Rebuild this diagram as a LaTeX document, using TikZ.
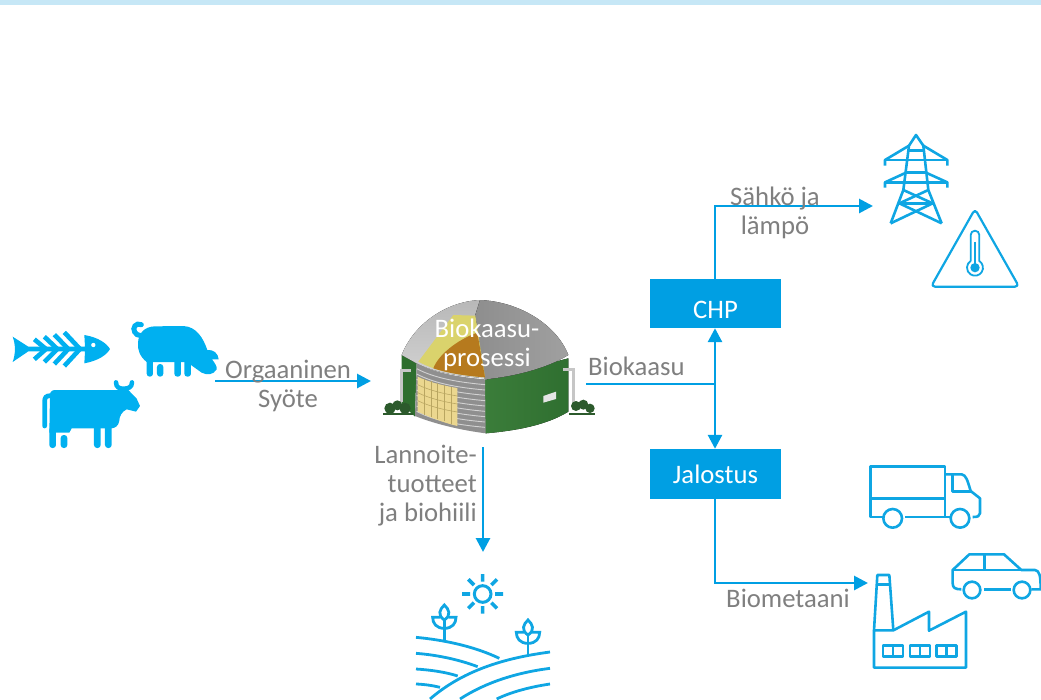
\documentclass[tikz,border=0pt]{standalone}
\usepackage{fontspec}
\setmainfont{Carlito}
\usetikzlibrary{arrows.meta}
\definecolor{flow}{HTML}{009FE3}
\definecolor{animal}{HTML}{00B0F0}
\definecolor{iconline}{HTML}{0FA6E3}
\definecolor{band}{HTML}{C6E7F6}
\definecolor{txt}{HTML}{7F7F7F}
\definecolor{wallR}{HTML}{3B7D3A}
\definecolor{wallRd}{HTML}{2F6F30}
\definecolor{wallL}{HTML}{2E6E2E}
\definecolor{domeL}{HTML}{B8B8B8}
\definecolor{domeLt}{HTML}{D2D2D2}
\definecolor{domeR}{HTML}{A0A0A0}
\definecolor{domeRd}{HTML}{8E8E8E}
\definecolor{hay}{HTML}{DAD36C}
\definecolor{brownfill}{HTML}{B67A1E}
\definecolor{panel}{HTML}{EBD78F}
\definecolor{panelline}{HTML}{B9A661}
\definecolor{cyl}{HTML}{8F8F8F}
\definecolor{bush}{HTML}{2C5A2C}
\tikzset{
 flowline/.style={draw=flow,line width=2.8pt,-{Triangle[length=14pt,width=14pt]}},
 plainflow/.style={draw=flow,line width=2.8pt},
 label/.style={text=txt,font=\fontsize{26.7}{29}\selectfont,align=center,inner sep=0pt},
 whitelabel/.style={text=white,font=\fontsize{26.7}{29}\selectfont,align=center,inner sep=0pt},
 procbox/.style={fill=flow,draw=none,minimum width=131pt,inner sep=0pt,text=white,font=\fontsize{26.7}{29}\selectfont},
 zoomed/.style={x=0.33333pt,y=-0.33333pt},
 icon/.style={draw=iconline,line width=2.6pt,line join=round,fill=none},
 iconthin/.style={draw=iconline,line width=2.2pt,line join=round,fill=none},
 farmline/.style={draw=iconline,line width=2.8pt},
 bone/.style={draw=animal,line width=4.6pt},
}
\begin{document}
\begin{tikzpicture}[x=1pt,y=-1pt]
\useasboundingbox (0,0) rectangle (1041,699);
\fill[band] (0,0) rectangle (1041,5);

% fish
\begin{scope}[shift={(0,300)},zoomed]
\fill[animal] (38,110) -- (85,140) -- (255,140) -- (253,105) .. controls (295,112) and (320,130) .. (330,147) .. controls (320,165) and (295,182) .. (253,190) -- (255,154) -- (85,154) -- (38,186) .. controls (47,160) and (47,135) .. (38,110) -- cycle;
\fill[white] (280,135) circle[radius=6.5];
\draw[bone] (103,118) -- (138,147) -- (103,178);
\draw[bone] (133,110) -- (172,147) -- (133,186);
\draw[bone] (163,104) -- (205,147) -- (163,192);
\draw[bone] (193,97) -- (240,147) -- (193,198);
% pig
\draw[animal,line width=5pt,line cap=round] (424,74) .. controls (408,66) and (396,84) .. (404,96) .. controls (408,104) and (414,106) .. (420,106);
\fill[animal] (414,128) .. controls (416,100) and (432,80) .. (465,79) -- (550,78) .. controls (590,80) and (610,115) .. (622,150) .. controls (640,148) and (655,160) .. (656,178) -- (636,178) .. controls (645,190) and (652,200) .. (650,208) .. controls (640,225) and (622,226) .. (605,218) -- (573,195) -- (573,186) -- (440,186) .. controls (420,170) and (412,150) .. (414,128) -- cycle;
\fill[animal,rounded corners=3pt] (440,170) rectangle (459,230);
\fill[animal,rounded corners=3pt] (471,192) rectangle (490,230);
\fill[animal,rounded corners=3pt] (523,170) rectangle (543,230);
\fill[animal,rounded corners=3pt] (553,170) rectangle (573,230);
% cow
\draw[animal,line width=4.5pt,line cap=round] (348,247) .. controls (348,262) and (358,266) .. (370,266) .. controls (385,266) and (396,262) .. (396,247);
\fill[animal] (150,282) .. controls (152,272) and (158,270) .. (170,270) -- (385,270) -- (410,296) -- (420,318) -- (408,335) -- (380,328) .. controls (365,335) and (358,350) .. (358,362) .. controls (356,378) and (345,384) .. (335,385) -- (215,385) -- (208,398) -- (148,398) -- cycle;
\draw[animal,line width=4.7pt,line cap=round] (150,287) .. controls (138,288) and (134,292) .. (134,305) -- (134,378);
\fill[animal,rounded corners=3pt] (148,380) rectangle (168,444);
\fill[animal,rounded corners=3pt] (182,405) rectangle (202,444);
\fill[animal,rounded corners=3pt] (282,375) rectangle (302,444);
\fill[animal,rounded corners=3pt] (315,375) rectangle (335,444);
\end{scope}

% digester
\begin{scope}[shift={(370,300)},zoomed]
\fill[wallL] (95,165) -- (140,190) -- (135,350) -- (95,312) -- cycle;
\fill[left color=wallR,right color=wallRd] (345,240) -- (595,175) -- (595,335) .. controls (530,375) and (440,392) .. (347,400) -- cycle;
\fill[cyl] (140,190) .. controls (200,222) and (280,232) .. (345,238) -- (347,400) .. controls (270,390) and (195,372) .. (135,348) -- cycle;
\foreach \d in {16,32,...,144}{
 \draw[gray!35,line width=0.9pt] (140,{190+\d}) .. controls (200,{222+\d}) and (280,{232+\d}) .. (345,{238+\d});
}
\fill[panel] (143,230) .. controls (180,248) and (225,258) .. (262,264) -- (262,378) .. controls (220,368) and (180,352) .. (143,335) -- cycle;
\foreach \x in {163,183,203,223,243}{ \draw[panelline,line width=0.6pt] (\x,{232+(\x-143)*.28}) -- (\x,{337+(\x-143)*.34}); }
\foreach \d in {24,48,72}{ \draw[panelline,line width=0.6pt] (143,{230+\d}) .. controls (180,{248+\d}) and (225,{258+\d}) .. (262,{264+\d}); }
% dome
\fill[bottom color=domeLt,top color=domeL] (95,165) .. controls (130,75) and (225,5) .. (330,0) -- (345,235) .. controls (270,228) and (200,220) .. (140,190) -- cycle;
\fill[left color=domeRd,right color=domeR] (330,0) .. controls (450,5) and (560,75) .. (595,165) .. controls (530,205) and (430,230) .. (345,238) -- (316,45) -- cycle;
\fill[hay] (145,185) -- (250,45) -- (316,47) -- (345,232) .. controls (270,226) and (200,215) .. (145,185) -- cycle;
\fill[brownfill] (190,205) .. controls (205,165) and (260,120) .. (322,98) -- (345,232) .. controls (290,228) and (235,220) .. (190,205) -- cycle;
% pipes
\draw[gray!45,line width=3pt] (122,212) -- (95,212) -- (95,305);
\draw[gray!45,line width=3pt] (580,207) -- (610,207) -- (610,305);
% bushes
\fill[bush] (40,340) rectangle (130,346);
\fill[bush] (60,325) circle[radius=17];
\fill[bush] (82,316) circle[radius=15];
\fill[bush] (105,325) circle[radius=17];
\fill[bush] (598,340) rectangle (675,346);
\fill[bush] (618,318) circle[radius=15];
\fill[bush] (640,314) circle[radius=15];
\fill[bush] (660,325) circle[radius=14];
\fill[gray!20] (520,288) -- (558,275) -- (558,297) -- (520,308) -- cycle;
\end{scope}

% nodes
\node[whitelabel] (process) at (487,345) {Biokaasu-\\prosessi};
\node[procbox,minimum height=49pt] (chp) at (715.5,303.5) {\rule{0pt}{30pt}CHP};
\node[procbox,minimum height=50pt] (jalostus) at (715.5,474) {Jalostus};
\coordinate (feedstart) at (215,381);
\coordinate (feedend) at (371,381);
\coordinate (gasstart) at (586,384);
\coordinate (branch) at (715,384);
\coordinate (fertstart) at (483,447);
\coordinate (fertend) at (483,552);
\coordinate (powerend) at (873,206);
\coordinate (fuelend) at (868,583);

% connectors
\draw[flowline] (feedstart) -- (feedend);
\draw[plainflow] (gasstart) -- (branch);
\draw[flowline] (branch) -- (chp.south -| branch);
\draw[flowline] (branch) -- (jalostus.north -| branch);
\draw[flowline] (chp.north -| branch) |- (powerend);
\draw[flowline] (jalostus.south -| branch) |- (fuelend);
\draw[flowline] (fertstart) -- (fertend);

% labels
\node[label] (feedlabel) at (288,386) {Orgaaninen\\Syöte};
\node[label,anchor=west] (gaslabel) at (588,366) {Biokaasu};
\node[label] (powerlabel) at (775,212.5) {Sähkö ja\\lämpö};
\node[label,align=right,anchor=east] (fertlabel) at (477,486) {Lannoite-\\tuotteet\\ja biohiili};
\node[label] (fuellabel) at (788,598) {Biometaani};

% pylon
\begin{scope}[shift={(860,125)},zoomed]
\draw[icon] (92,295) -- (130,195) -- (147,62) -- (168,30) -- (190,62) -- (205,195) -- (245,295);
\draw[icon] (147,62) -- (75,105) -- (75,122);
\draw[icon] (190,62) -- (262,105) -- (262,122);
\draw[icon] (75,105) -- (262,105);
\draw[icon] (147,76) -- (190,76);
\draw[icon] (138,143) -- (75,172) -- (75,188);
\draw[icon] (198,143) -- (262,172) -- (262,188);
\draw[icon] (75,172) -- (262,172);
\draw[icon] (138,143) -- (198,143);
\draw[icon] (130,195) -- (218,235) -- (92,295);
\draw[icon] (205,195) -- (118,235) -- (245,295);
\draw[icon] (118,235) -- (218,235);
% warning triangle
\draw[iconthin,rounded corners=4pt] (345,252) -- (477,485) -- (213,485) -- cycle;
\draw[iconline,line width=1.8pt] (332,408) -- (332,330) arc[start angle=180,end angle=360,radius=13] -- (358,408) arc[start angle=-57,end angle=237,radius=24];
\draw[iconline,line width=1.2pt] (345,350) -- (345,420);
\fill[iconline] (345,428) circle[radius=14];
\end{scope}

% farm
\begin{scope}[shift={(405,565)},zoomed]
\draw[iconline,line width=3pt,fill=none] (233,87) circle[radius=25];
\draw[iconline,line width=3.6pt] (233,27) -- (233,50) (233,123) -- (233,146) (171,87) -- (195,87) (270,87) -- (294,87) (190,43) -- (207,60) (276,43) -- (259,60) (190,130) -- (207,113) (276,130) -- (259,113);
\draw[farmline] (33,217) .. controls (120,225) and (210,245) .. (283,280);
\draw[farmline] (33,265) .. controls (100,270) and (165,285) .. (218,305);
\draw[farmline] (33,312) .. controls (80,315) and (125,322) .. (158,333);
\draw[farmline] (33,357) .. controls (60,358) and (85,362) .. (105,367);
\draw[farmline] (75,402) .. controls (170,320) and (290,280) .. (435,261);
\draw[farmline] (165,402) .. controls (245,350) and (340,322) .. (435,310);
\draw[farmline] (275,402) .. controls (320,380) and (380,365) .. (435,357);
\foreach \px/\py in {118/225,369/270}{
 \begin{scope}[shift={(\px,\py)},zoomed]
 \draw[farmline] (0,0) -- (0,-60);
 \draw[farmline] (0,-60) .. controls (-22,-75) and (-14,-92) .. (0,-105) .. controls (14,-92) and (22,-75) .. (0,-60);
 \draw[farmline] (0,-35) .. controls (-24,-35) and (-35,-50) .. (-35,-68) -- (-12,-68);
 \draw[farmline] (0,-35) .. controls (24,-35) and (35,-50) .. (35,-68) -- (12,-68);
 \end{scope}
}
\end{scope}

% truck, car, factory
\begin{scope}[shift={(860,455)},zoomed]
\draw[icon] (255,130) -- (255,34) -- (32,34) -- (32,186) -- (68,186);
\draw[icon] (32,130) -- (255,130) -- (255,186) -- (270,186);
\draw[icon] (136,186) -- (255,186);
\draw[icon] (98,190) circle[radius=28];
\draw[icon] (300,190) circle[radius=28];
\draw[icon] (255,58) -- (305,58) .. controls (318,60) and (322,75) .. (332,108) -- (360,130) -- (360,175) .. controls (360,184) and (352,186) .. (338,186);
\draw[icon] (277,58) -- (277,110) -- (332,110);
\draw[icon] (304,403) .. controls (285,403) and (278,398) .. (278,385) -- (278,345) -- (328,298) -- (432,298) -- (484,345) -- (525,345) .. controls (538,347) and (542,360) .. (542,403) -- (514,403);
\draw[icon] (278,345) -- (484,345);
\draw[icon] (373,298) -- (373,345);
\draw[icon] (372,403) -- (452,403);
\draw[icon] (336,405) circle[radius=25];
\draw[icon] (486,405) circle[radius=25];
\draw[icon] (42,526) -- (42,638) -- (318,638) -- (318,470) -- (207,527) -- (207,470) -- (100,526) -- cycle;
\draw[icon] (42,526) -- (52,360) -- (88,360) -- (100,526);
\draw[icon] (51,388) -- (89,388);
\foreach \w in {69,150,230}{
 \draw[icon] (\w,571) rectangle ++(60,34);
 \draw[icon] (\w+30,571) -- (\w+30,605);
}
\end{scope}
\end{tikzpicture}
\end{document}
